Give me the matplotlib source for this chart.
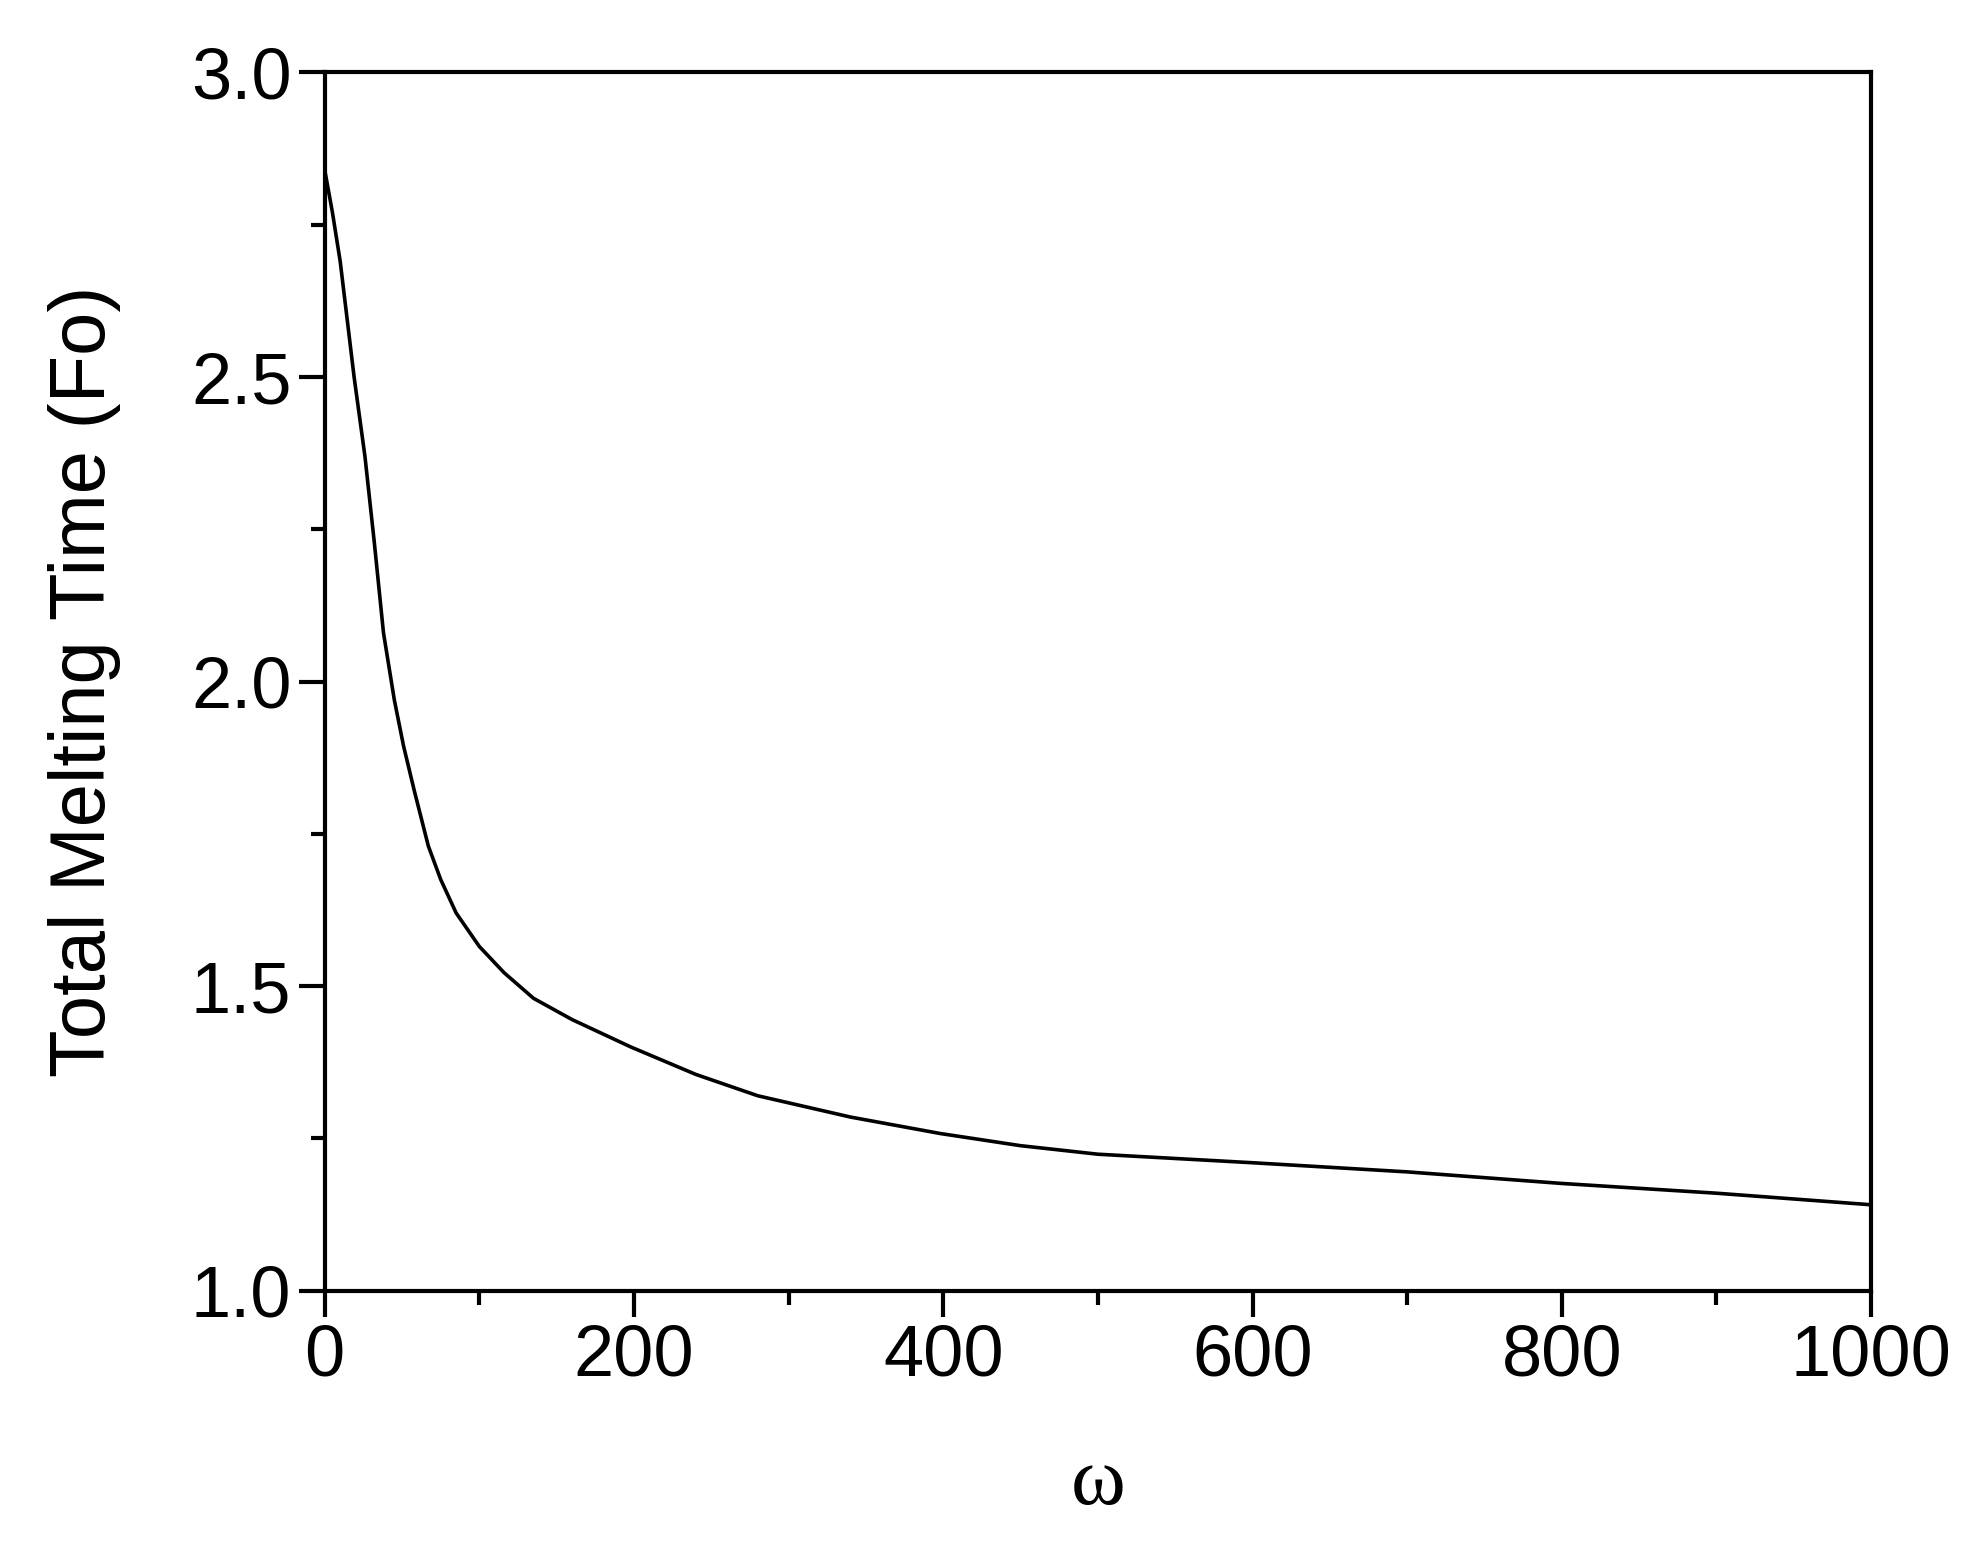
import numpy as np
import matplotlib.pyplot as plt
from matplotlib.ticker import MultipleLocator

# valeurs
omega = [0, 5, 10, 19, 26, 32, 38, 45, 51, 58, 67, 75, 85, 100, 116, 135,
         160, 198, 240, 280, 340, 398, 450, 500, 600, 700, 800, 900, 1000]
t_fusion = [2.84, 2.77, 2.69, 2.50, 2.37, 2.23, 2.08, 1.97, 1.894, 1.82,
            1.73, 1.675, 1.62, 1.565, 1.522, 1.48, 1.445, 1.40, 1.355, 1.32,
            1.285, 1.258, 1.238, 1.224, 1.21, 1.195, 1.176, 1.16, 1.141]

plt.rcParams['font.family'] = ['Liberation Sans', 'DejaVu Sans']

fig = plt.figure(figsize=(19.8, 15.42), dpi=100)
ax = fig.add_axes([0.164, 0.163, 0.781, 0.79])

ax.plot(omega, t_fusion, color='black', lw=2.6)

ax.set_xlim(0, 1000)
ax.set_ylim(1.0, 3.0)
ax.xaxis.set_major_locator(MultipleLocator(200))
ax.xaxis.set_minor_locator(MultipleLocator(100))
ax.yaxis.set_major_locator(MultipleLocator(0.5))
ax.yaxis.set_minor_locator(MultipleLocator(0.25))
ax.yaxis.set_major_formatter(plt.FormatStrFormatter('%.1f'))

for s in ax.spines.values():
    s.set_linewidth(3)
ax.tick_params(which='major', direction='out', length=19, width=3,
               labelsize=52, pad=5)
ax.tick_params(which='minor', direction='out', length=10, width=3)

ax.set_ylabel('Total Melting Time (Fo)', fontsize=56, labelpad=50)
ax.set_xlabel('ω', fontsize=60, family=['Liberation Serif', 'DejaVu Serif'],
              labelpad=40)

fig.savefig('out.png', dpi=100)
